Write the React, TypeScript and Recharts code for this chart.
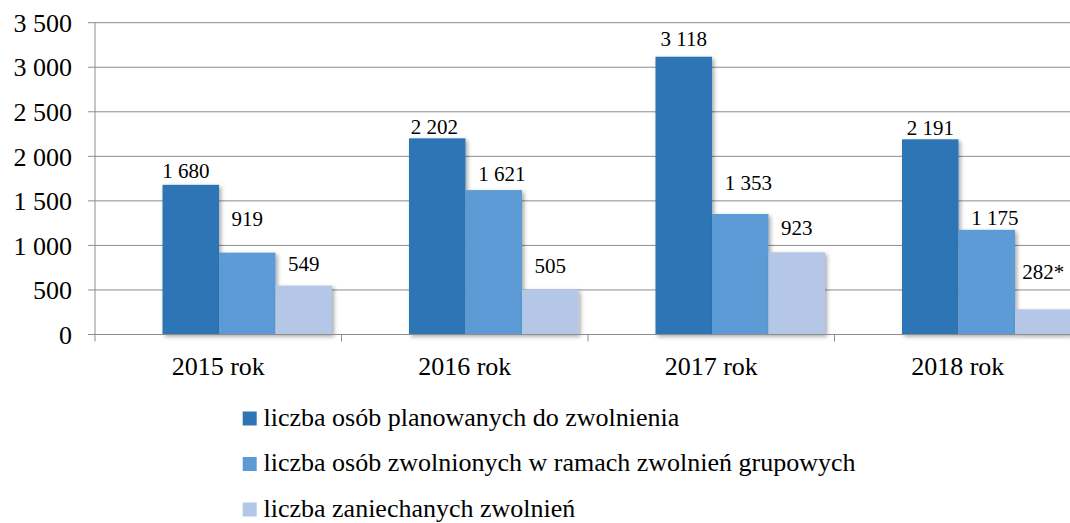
import { Bar, BarChart, CartesianGrid, XAxis, YAxis } from "recharts";

const CATEGORIES = ["2015 rok", "2016 rok", "2017 rok", "2018 rok"];
const PLANNED = [1680, 2202, 3118, 2191];
const DISMISSED = [919, 1621, 1353, 1175];
const ABANDONED = [549, 505, 923, 282];
const ABANDONED_NOTES = ["", "", "", "*"];
const Y_TICKS = [0, 500, 1000, 1500, 2000, 2500, 3000, 3500];

const SERIES = [
  { key: "planned", label: "liczba osób planowanych do zwolnienia", color: "#2E75B6" },
  { key: "dismissed", label: "liczba osób zwolnionych w ramach zwolnień grupowych", color: "#5B9BD5" },
  { key: "abandoned", label: "liczba zaniechanych zwolnień", color: "#B4C7E7" }
];

// hand-placed label nudges in the source (gap above bar top, horizontal shift)
const LABEL_NUDGE: Record<string, { gap: number[]; dx: number[] }> = {
  planned: { gap: [7, 4, 11, 4], dx: [-5, -3, 0, 0] },
  dismissed: { gap: [27, 9, 24, 5], dx: [0, 8, 8, 8] },
  abandoned: { gap: [15, 17, 17, 30], dx: [0, 0, 0, 0] }
};

const data = CATEGORIES.map((year, i) => ({
  year,
  planned: PLANNED[i],
  dismissed: DISMISSED[i],
  abandoned: ABANDONED[i]
}));

const FONT = "Liberation Serif, DejaVu Serif, serif";
const GRID = "#8c8c8c";
const PLOT_LEFT = 95;
const PLOT_RIGHT = 1081;
const BAND = (PLOT_RIGHT - PLOT_LEFT) / CATEGORIES.length;
const BAR_SHIFT = 28.5;

const fmt = (v: number) => String(v).replace(/\B(?=(\d{3})+(?!\d))/g, " ");

function ShadowBar(props: any) {
  const { x, y, width, height, fill, payload, seriesKey } = props;
  const i = CATEGORIES.indexOf(payload.year);
  const nudge = LABEL_NUDGE[seriesKey];
  const note = seriesKey === "abandoned" ? ABANDONED_NOTES[i] : "";
  const value = payload[seriesKey];
  return (
    <g>
      <rect x={x + BAR_SHIFT} y={y} width={width} height={height} fill={fill} filter="url(#barShadow)" />
      <text
        x={x + width / 2 + BAR_SHIFT + nudge.dx[i]}
        y={y - nudge.gap[i]}
        textAnchor="middle"
        style={{ fontFamily: FONT, fontSize: 21 }}
        fill="#000"
      >
        {fmt(value) + note}
      </text>
    </g>
  );
}

function CategoryTick(props: any) {
  const { x, y, payload } = props;
  return (
    <g>
      <line x1={x - BAND / 2} x2={x - BAND / 2} y1={y - 7} y2={y} stroke={GRID} strokeWidth={1} />
      <text x={x} y={y + 33} textAnchor="middle" style={{ fontFamily: FONT, fontSize: 26 }} fill="#000">
        {payload.value}
      </text>
    </g>
  );
}

export default function App() {
  return (
    <div
      style={{
        position: "absolute",
        left: 0,
        top: 0,
        width: 1070,
        height: 523,
        overflow: "hidden",
        background: "#fff",
        fontFamily: FONT
      }}
    >
      <BarChart
        width={1100}
        height={523}
        data={data}
        margin={{ top: 22.7, right: 1100 - PLOT_RIGHT, left: 0, bottom: 138.5 }}
        barGap={0}
        barSize={56.5}
        style={{ fontFamily: FONT }}
      >
        <defs>
          <filter id="barShadow" x="-20%" y="-20%" width="140%" height="140%">
            <feDropShadow dx={2} dy={2} stdDeviation={2.2} floodColor="#000" floodOpacity={0.35} />
          </filter>
        </defs>
        <CartesianGrid stroke={GRID} vertical={false} />
        <XAxis
          dataKey="year"
          height={50}
          tickLine={false}
          tickSize={7}
          tickMargin={0}
          axisLine={{ stroke: GRID }}
          tick={<CategoryTick />}
          interval={0}
        />
        <YAxis
          width={PLOT_LEFT}
          domain={[0, 3500]}
          ticks={Y_TICKS}
          tickFormatter={(v) => fmt(Number(v))}
          tickSize={7}
          tickMargin={16}
          tickLine={{ stroke: GRID }}
          axisLine={{ stroke: GRID }}
          tick={{ fill: "#000", style: { fontFamily: FONT }, fontSize: 26 }}
        />
        {SERIES.map((s) => (
          <Bar
            key={s.key}
            dataKey={s.key}
            name={s.label}
            fill={s.color}
            isAnimationActive={false}
            shape={(p: any) => <ShadowBar {...p} seriesKey={s.key} />}
          />
        ))}
      </BarChart>
      <svg width={1070} height={523} style={{ position: "absolute", left: 0, top: 0, pointerEvents: "none" }}>
        {SERIES.map((s, i) => {
          const base = 425.5 + i * 45.5;
          return (
            <g key={s.key}>
              <rect x={242.7} y={base - 14} width={14} height={14} fill={s.color} />
              <text x={263.5} y={base} style={{ fontFamily: FONT, fontSize: 26 }} fill="#000">
                {s.label}
              </text>
            </g>
          );
        })}
      </svg>
    </div>
  );
}
